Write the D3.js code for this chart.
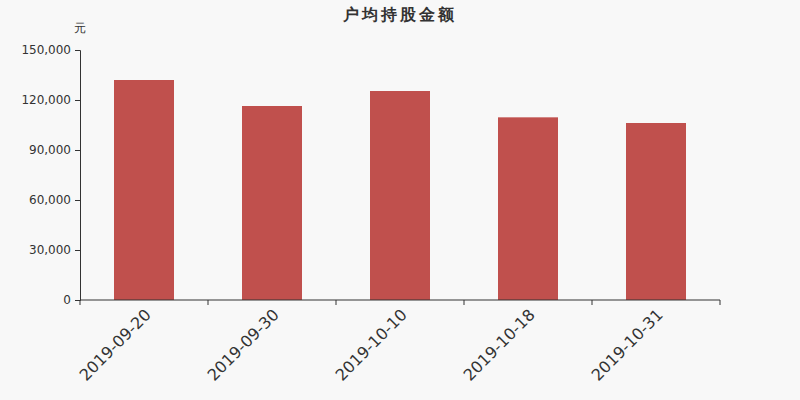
<!DOCTYPE html>
<html>
<head>
<meta charset="utf-8">
<script src="https://d3js.org/d3.v7.min.js"></script>
<style>
  html, body { margin: 0; padding: 0; background: #f8f8f8; }
  svg { display: block; }
  text { font-family: 'DejaVu Sans', sans-serif; }
</style>
</head>
<body>
<svg id="chart"></svg>
<script>
const dates = ['2019-09-20', '2019-09-30', '2019-10-10', '2019-10-18', '2019-10-31']
const amounts = [132000, 116400, 125400, 109600, 106200]
const yTicks = [0, 30000, 60000, 90000, 120000, 150000]

const width = 800, height = 400
const margin = {top: 50, right: 80, bottom: 100, left: 80}
const font = "'DejaVu Sans', sans-serif"

const svg = d3.select('#chart')
    .attr('width', width)
    .attr('height', height)

svg.append('rect')
    .attr('width', width)
    .attr('height', height)
    .style('fill', '#f8f8f8')

const x = d3.scaleBand()
    .domain(dates)
    .range([margin.left, width - margin.right])
    .paddingInner(0)

const y = d3.scaleLinear()
    .domain([0, 150000])
    .range([height - margin.bottom, margin.top])

// bars
const barW = 60
svg.append('g')
    .selectAll('rect')
    .data(amounts)
    .enter().append('rect')
    .attr('x', (d, i) => x(dates[i]) + x.bandwidth() / 2 - barW / 2)
    .attr('y', d => y(d))
    .attr('width', barW)
    .attr('height', d => y(0) - y(d))
    .style('fill', '#c0504d')

// y axis
const yAxis = svg.append('g')
    .attr('transform', 'translate(' + margin.left + ',0)')
    .call(d3.axisLeft(y).tickValues(yTicks).tickSize(5).tickPadding(4)
        .tickFormat(d3.format(',')))
yAxis.attr('font-family', null).attr('font-size', null)
yAxis.select('.domain').attr('stroke', '#333').attr('stroke-width', 1)
yAxis.selectAll('.tick line').attr('stroke', '#333')
yAxis.selectAll('text')
    .style('font-family', font)
    .style('font-size', '12px')
    .style('fill', '#333')

// x axis, ticks on category boundaries
const xAxis = svg.append('g')
    .attr('transform', 'translate(0,' + y(0) + ')')
xAxis.append('line')
    .attr('x1', margin.left).attr('x2', width - margin.right)
    .attr('stroke', '#333')
const bounds = dates.map(d => x(d)).concat([x(dates[dates.length - 1]) + x.bandwidth()])
xAxis.selectAll('line.tick')
    .data(bounds)
    .enter().append('line')
    .attr('class', 'tick')
    .attr('x1', d => d).attr('x2', d => d)
    .attr('y1', 0).attr('y2', 5)
    .attr('stroke', '#333')
xAxis.selectAll('text')
    .data(dates)
    .enter().append('text')
    .attr('transform', d => 'translate(' + (x(d) + x.bandwidth() / 2) + ',8) rotate(-45)')
    .attr('text-anchor', 'end')
    .attr('dy', '0.7em')
    .style('font-family', font)
    .style('font-size', '16px')
    .style('fill', '#333')
    .text(d => d)

// unit label
svg.append('text')
    .attr('x', margin.left)
    .attr('y', 32)
    .attr('text-anchor', 'middle')
    .style('font-family', font)
    .style('font-size', '12px')
    .style('fill', '#333')
    .text('元')

// title
svg.append('text')
    .attr('x', width / 2)
    .attr('y', 20)
    .attr('text-anchor', 'middle')
    .style('font-family', font)
    .style('font-size', '16px')
    .style('font-weight', 'bold')
    .style('letter-spacing', '3px')
    .style('fill', '#333')
    .text('户均持股金额')
</script>
</body>
</html>
